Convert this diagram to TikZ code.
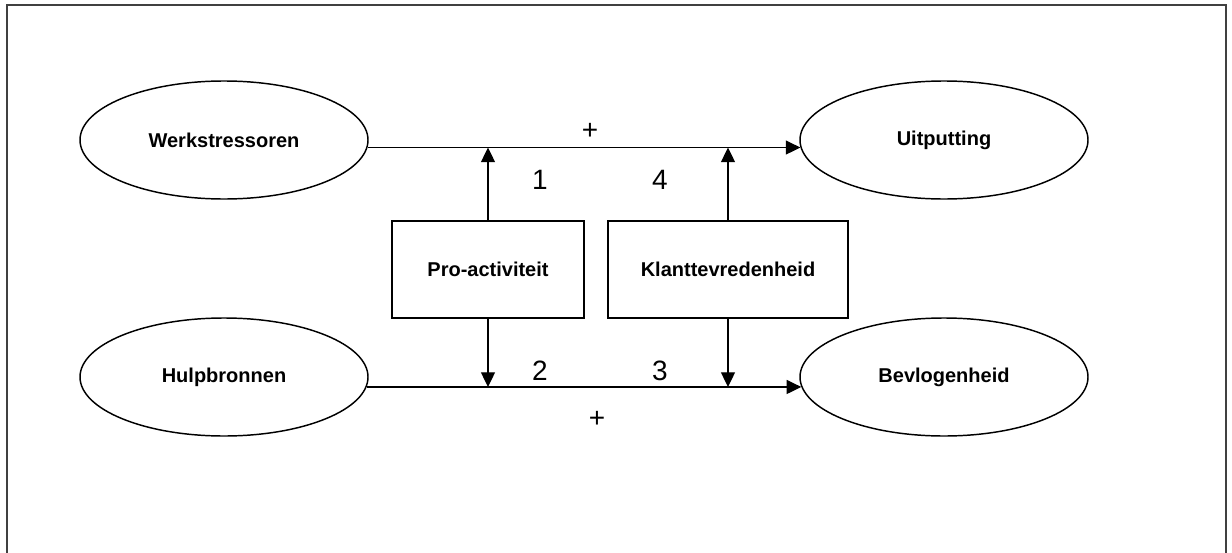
\documentclass[tikz,border=0pt]{standalone}
\usepackage{fontspec}
\setmainfont{Liberation Sans}
\usetikzlibrary{shapes.geometric,arrows.meta}
\begin{document}
\begin{tikzpicture}[x=0.75pt,y=-0.75pt,
  ell/.style={ellipse,draw,line width=1.1pt,minimum width=216pt,minimum height=88.5pt,inner sep=0pt,font=\bfseries\fontsize{15}{18}\selectfont},
  boxnode/.style={rectangle,draw,line width=1pt,inner sep=0pt,font=\bfseries\fontsize{15}{18}\selectfont},
  lbl/.style={inner sep=0pt,font=\fontsize{21}{25}\selectfont},
  conn/.style={line width=1pt,-{Triangle[length=11pt,width=10.5pt]}}]
\useasboundingbox (0,0) rectangle (1232,553);
% frame (bottom edge lies outside the picture)
\draw[black!75,line width=1pt] (7,600) -- (7,5) -- (1226,5) -- (1226,600);
% nodes
\node[ell] (W) at (224,140) {Werkstressoren};
\node[ell] (U) at (944,140) {Uitputting};
\node[ell] (H) at (224,377) {Hulpbronnen};
\node[ell] (B) at (944,377) {Bevlogenheid};
\node[boxnode,minimum width=144pt,minimum height=72.75pt] (P) at (488,269.5) {Pro-activiteit};
\node[boxnode,minimum width=180pt,minimum height=72.75pt] (K) at (728,269.5) {Klanttevredenheid};
% connectors
\draw[conn] (W.-3.6) -- (U.183.6);
\draw[conn] (H.-4.9) -- (B.184.9);
\draw[conn] (P.north) -- (P.north |- W.-3.6);
\draw[conn] (K.north) -- (K.north |- U.183.6);
\draw[conn] (P.south) -- (P.south |- H.-4.9);
\draw[conn] (K.south) -- (K.south |- B.184.9);
% labels
\node[lbl] (plus1) at (590,131) {+};
\node[lbl] (n1) at (540,180) {1};
\node[lbl] (n4) at (660,180) {4};
\node[lbl] (n2) at (540,371) {2};
\node[lbl] (n3) at (660,371) {3};
\node[lbl] (plus2) at (597,419) {+};
\end{tikzpicture}
\end{document}
